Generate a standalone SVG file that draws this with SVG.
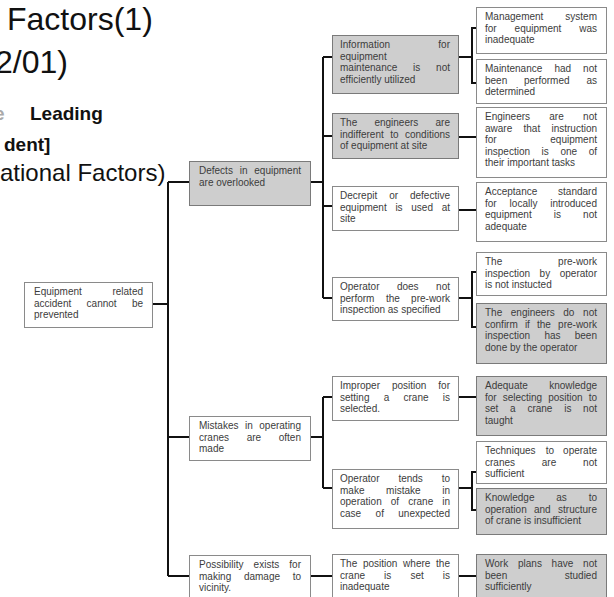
<svg xmlns="http://www.w3.org/2000/svg" width="614" height="597" viewBox="0 0 614 597">
<style>
.b{fill:#fff;stroke:#8a8a8a;stroke-width:1}
.g{fill:#cecece;stroke:#7a7a7a;stroke-width:1}
.t{font-family:"Liberation Sans",Arial,sans-serif;font-size:10px;fill:#3c3c3c}
.c{fill:none;stroke:#111;stroke-width:2}
.h{font-family:"Liberation Sans",Arial,sans-serif;fill:#111}
</style>
<rect width="614" height="597" fill="#fff"/>
<g id="title">
<text class="h" x="7" y="30" font-size="32">Factors(1)</text>
<text class="h" x="-5" y="73" font-size="32">2/01)</text>
<text class="h" x="-6" y="120" font-size="19" font-weight="bold" fill="#aaa" style="fill:#aaa">e</text>
<text class="h" x="30" y="120" font-size="19" font-weight="bold">Leading</text>
<text class="h" x="4" y="151" font-size="19" font-weight="bold">dent]</text>
<text class="h" x="0" y="181" font-size="24">ational Factors)</text>
</g>
<g id="connectors">
<path class="c" d="M152 304H168M168 182V576M168 182H189M168 437H189M168 576H190M311 182H323M323 57V298M323 57H332M323 136H332M323 206H332M323 298H332M458 57H472M472 28V83M471 28H476M471 83H476M458 137H476M458 210H476M458 298H472M472 272V327M471 272H476M471 327H476M310 437H323M323 397V488M323 397H332M323 488H332M458 397H476M458 488H472M472 472V510M471 472H476M471 510H476M310 576H332M458 576H476"/>
</g>
<g id="root"><rect class="b" x="24.5" y="282.5" width="128" height="45"/>
<text class="t"><tspan x="34" y="295">Equipment</tspan><tspan x="143" y="295" text-anchor="end">related</tspan><tspan x="34" y="306.6">accident</tspan><tspan x="86.6" y="306.6">cannot</tspan><tspan x="143" y="306.6" text-anchor="end">be</tspan><tspan x="34" y="318.2">prevented</tspan></text></g>
<g id="defects"><rect class="g" x="189.5" y="161.5" width="121" height="44"/>
<text class="t"><tspan x="199" y="174">Defects</tspan><tspan x="239.7" y="174">in</tspan><tspan x="301" y="174" text-anchor="end">equipment</tspan><tspan x="199" y="185.6">are overlooked</tspan></text></g>
<g id="mistakes"><rect class="b" x="189.5" y="416.5" width="121" height="44"/>
<text class="t"><tspan x="199" y="429">Mistakes</tspan><tspan x="245" y="429">in</tspan><tspan x="301" y="429" text-anchor="end">operating</tspan><tspan x="199" y="440.6">cranes</tspan><tspan x="246.7" y="440.6">are</tspan><tspan x="301" y="440.6" text-anchor="end">often</tspan><tspan x="199" y="452.2">made</tspan></text></g>
<g id="possibility"><rect class="b" x="189.5" y="555.5" width="121" height="50"/>
<text class="t"><tspan x="199" y="568">Possibility</tspan><tspan x="253.6" y="568">exists</tspan><tspan x="301" y="568" text-anchor="end">for</tspan><tspan x="199" y="579.6">making</tspan><tspan x="243.9" y="579.6">damage</tspan><tspan x="301" y="579.6" text-anchor="end">to</tspan><tspan x="199" y="591.2">vicinity.</tspan></text></g>
<g id="information"><rect class="g" x="332.5" y="35.5" width="126" height="58"/>
<text class="t"><tspan x="340" y="48">Information</tspan><tspan x="450" y="48" text-anchor="end">for</tspan><tspan x="340" y="59.6">equipment</tspan><tspan x="340" y="71.2">maintenance</tspan><tspan x="413" y="71.2">is</tspan><tspan x="450" y="71.2" text-anchor="end">not</tspan><tspan x="340" y="82.8">efficiently utilized</tspan></text></g>
<g id="indifferent"><rect class="g" x="332.5" y="113.5" width="126" height="45"/>
<text class="t"><tspan x="340" y="126">The</tspan><tspan x="374.4" y="126">engineers</tspan><tspan x="450" y="126" text-anchor="end">are</tspan><tspan x="340" y="137.6">indifferent</tspan><tspan x="390.3" y="137.6">to</tspan><tspan x="450" y="137.6" text-anchor="end">conditions</tspan><tspan x="340" y="149.2">of equipment at site</tspan></text></g>
<g id="decrepit"><rect class="b" x="332.5" y="186.5" width="126" height="44"/>
<text class="t"><tspan x="340" y="199">Decrepit</tspan><tspan x="389.2" y="199">or</tspan><tspan x="450" y="199" text-anchor="end">defective</tspan><tspan x="340" y="210.6">equipment</tspan><tspan x="395.4" y="210.6">is</tspan><tspan x="411.3" y="210.6">used</tspan><tspan x="450" y="210.6" text-anchor="end">at</tspan><tspan x="340" y="222.2">site</tspan></text></g>
<g id="operator-prework"><rect class="b" x="332.5" y="277.5" width="126" height="43"/>
<text class="t"><tspan x="340" y="290">Operator</tspan><tspan x="396.9" y="290">does</tspan><tspan x="450" y="290" text-anchor="end">not</tspan><tspan x="340" y="301.6">perform</tspan><tspan x="385.9" y="301.6">the</tspan><tspan x="450" y="301.6" text-anchor="end">pre-work</tspan><tspan x="340" y="313.2">inspection as specified</tspan></text></g>
<g id="improper"><rect class="b" x="332.5" y="376.5" width="126" height="44"/>
<text class="t"><tspan x="340" y="389">Improper</tspan><tspan x="391.9" y="389">position</tspan><tspan x="450" y="389" text-anchor="end">for</tspan><tspan x="340" y="400.6">setting</tspan><tspan x="383.7" y="400.6">a</tspan><tspan x="403.5" y="400.6">crane</tspan><tspan x="450" y="400.6" text-anchor="end">is</tspan><tspan x="340" y="412.2">selected.</tspan></text></g>
<g id="operator-tends"><rect class="b" x="332.5" y="469.5" width="126" height="59"/>
<text class="t"><tspan x="340" y="482">Operator</tspan><tspan x="398.4" y="482">tends</tspan><tspan x="450" y="482" text-anchor="end">to</tspan><tspan x="340" y="493.6">make</tspan><tspan x="386.1" y="493.6">mistake</tspan><tspan x="450" y="493.6" text-anchor="end">in</tspan><tspan x="340" y="505.2">operation</tspan><tspan x="390.8" y="505.2">of</tspan><tspan x="408.2" y="505.2">crane</tspan><tspan x="450" y="505.2" text-anchor="end">in</tspan><tspan x="340" y="516.8">case</tspan><tspan x="375.6" y="516.8">of</tspan><tspan x="450" y="516.8" text-anchor="end">unexpected</tspan></text></g>
<g id="position"><rect class="b" x="332.5" y="554.5" width="126" height="50"/>
<text class="t"><tspan x="340" y="567">The</tspan><tspan x="362.9" y="567">position</tspan><tspan x="403.1" y="567">where</tspan><tspan x="450" y="567" text-anchor="end">the</tspan><tspan x="340" y="578.6">crane</tspan><tspan x="384.1" y="578.6">is</tspan><tspan x="410.4" y="578.6">set</tspan><tspan x="450" y="578.6" text-anchor="end">is</tspan><tspan x="340" y="590.2">inadequate</tspan></text></g>
<g id="management"><rect class="b" x="476.5" y="7.5" width="130" height="46"/>
<text class="t"><tspan x="485" y="20">Management</tspan><tspan x="597" y="20" text-anchor="end">system</tspan><tspan x="485" y="31.6">for</tspan><tspan x="514.6" y="31.6">equipment</tspan><tspan x="597" y="31.6" text-anchor="end">was</tspan><tspan x="485" y="43.2">inadequate</tspan></text></g>
<g id="maintenance"><rect class="b" x="476.5" y="59.5" width="130" height="44"/>
<text class="t"><tspan x="485" y="72">Maintenance</tspan><tspan x="554.4" y="72">had</tspan><tspan x="597" y="72" text-anchor="end">not</tspan><tspan x="485" y="83.6">been</tspan><tspan x="524" y="83.6">performed</tspan><tspan x="597" y="83.6" text-anchor="end">as</tspan><tspan x="485" y="95.2">determined</tspan></text></g>
<g id="aware"><rect class="b" x="476.5" y="107.5" width="130" height="70"/>
<text class="t"><tspan x="485" y="120">Engineers</tspan><tspan x="549.3" y="120">are</tspan><tspan x="597" y="120" text-anchor="end">not</tspan><tspan x="485" y="131.6">aware</tspan><tspan x="523.5" y="131.6">that</tspan><tspan x="597" y="131.6" text-anchor="end">instruction</tspan><tspan x="485" y="143.2">for</tspan><tspan x="597" y="143.2" text-anchor="end">equipment</tspan><tspan x="485" y="154.8">inspection</tspan><tspan x="541.6" y="154.8">is</tspan><tspan x="560.4" y="154.8">one</tspan><tspan x="597" y="154.8" text-anchor="end">of</tspan><tspan x="485" y="166.4">their important tasks</tspan></text></g>
<g id="acceptance"><rect class="b" x="476.5" y="182.5" width="130" height="59"/>
<text class="t"><tspan x="485" y="195">Acceptance</tspan><tspan x="597" y="195" text-anchor="end">standard</tspan><tspan x="485" y="206.6">for</tspan><tspan x="509.6" y="206.6">locally</tspan><tspan x="597" y="206.6" text-anchor="end">introduced</tspan><tspan x="485" y="218.2">equipment</tspan><tspan x="553.8" y="218.2">is</tspan><tspan x="597" y="218.2" text-anchor="end">not</tspan><tspan x="485" y="229.8">adequate</tspan></text></g>
<g id="not-instructed"><rect class="b" x="476.5" y="252.5" width="130" height="43"/>
<text class="t"><tspan x="485" y="265">The</tspan><tspan x="597" y="265" text-anchor="end">pre-work</tspan><tspan x="485" y="276.6">inspection</tspan><tspan x="539.6" y="276.6">by</tspan><tspan x="597" y="276.6" text-anchor="end">operator</tspan><tspan x="485" y="288.2">is not instucted</tspan></text></g>
<g id="confirm"><rect class="g" x="476.5" y="303.5" width="130" height="60"/>
<text class="t"><tspan x="485" y="316">The</tspan><tspan x="510.8" y="316">engineers</tspan><tspan x="563.3" y="316">do</tspan><tspan x="597" y="316" text-anchor="end">not</tspan><tspan x="485" y="327.6">confirm</tspan><tspan x="524.9" y="327.6">if</tspan><tspan x="537" y="327.6">the</tspan><tspan x="597" y="327.6" text-anchor="end">pre-work</tspan><tspan x="485" y="339.2">inspection</tspan><tspan x="544.4" y="339.2">has</tspan><tspan x="597" y="339.2" text-anchor="end">been</tspan><tspan x="485" y="350.8">done by the operator</tspan></text></g>
<g id="adequate"><rect class="g" x="476.5" y="376.5" width="130" height="59"/>
<text class="t"><tspan x="485" y="389">Adequate</tspan><tspan x="597" y="389" text-anchor="end">knowledge</tspan><tspan x="485" y="400.6">for</tspan><tspan x="502.7" y="400.6">selecting</tspan><tspan x="548.2" y="400.6">position</tspan><tspan x="597" y="400.6" text-anchor="end">to</tspan><tspan x="485" y="412.2">set</tspan><tspan x="510" y="412.2">a</tspan><tspan x="527.4" y="412.2">crane</tspan><tspan x="564.2" y="412.2">is</tspan><tspan x="597" y="412.2" text-anchor="end">not</tspan><tspan x="485" y="423.8">taught</tspan></text></g>
<g id="techniques"><rect class="b" x="476.5" y="441.5" width="130" height="42"/>
<text class="t"><tspan x="485" y="454">Techniques</tspan><tspan x="545.8" y="454">to</tspan><tspan x="597" y="454" text-anchor="end">operate</tspan><tspan x="485" y="465.6">cranes</tspan><tspan x="541.8" y="465.6">are</tspan><tspan x="597" y="465.6" text-anchor="end">not</tspan><tspan x="485" y="477.2">sufficient</tspan></text></g>
<g id="knowledge"><rect class="g" x="476.5" y="488.5" width="130" height="46"/>
<text class="t"><tspan x="485" y="501">Knowledge</tspan><tspan x="556.3" y="501">as</tspan><tspan x="597" y="501" text-anchor="end">to</tspan><tspan x="485" y="512.6">operation</tspan><tspan x="534" y="512.6">and</tspan><tspan x="597" y="512.6" text-anchor="end">structure</tspan><tspan x="485" y="524.2">of crane is insufficient</tspan></text></g>
<g id="work-plans"><rect class="g" x="476.5" y="554.5" width="130" height="50"/>
<text class="t"><tspan x="485" y="567">Work</tspan><tspan x="518" y="567">plans</tspan><tspan x="551.6" y="567">have</tspan><tspan x="597" y="567" text-anchor="end">not</tspan><tspan x="485" y="578.6">been</tspan><tspan x="597" y="578.6" text-anchor="end">studied</tspan><tspan x="485" y="590.2">sufficiently</tspan></text></g>
</svg>
